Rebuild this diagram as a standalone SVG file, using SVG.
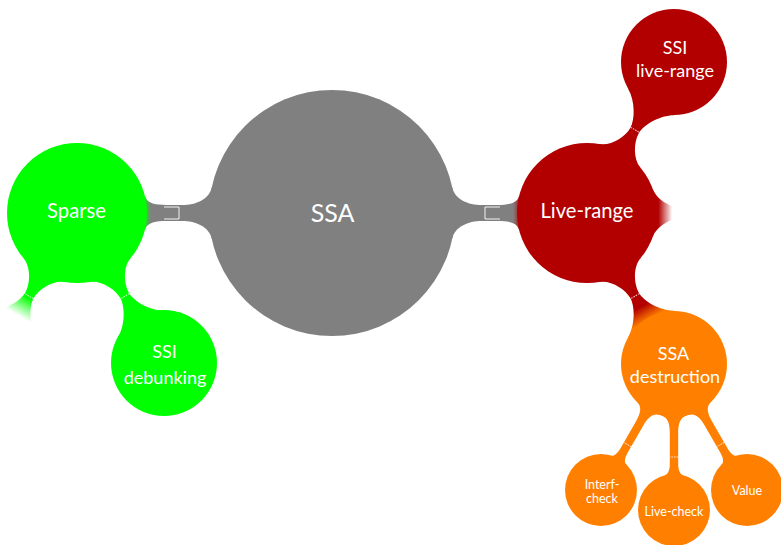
<svg xmlns="http://www.w3.org/2000/svg" width="781" height="545" viewBox="0 0 781 545">
  <defs>
    <style>
      text { font-family: Lato, "Open Sans", "DejaVu Sans", sans-serif; fill: #ffffff; text-anchor: middle; }
      .grey { fill: #808080; }
      .green { fill: #00ff00; }
      .red { fill: #b20000; }
      .orange { fill: #ff8000; }
      .l0 { font-size: 25px; }
      .l1 { font-size: 20.2px; }
      .l2 { font-size: 18px; }
      .l3 { font-size: 12.5px; }
      .seam { fill: none; stroke: #ffffff; stroke-width: 0.9; stroke-dasharray: 1.6 1; opacity: 0.85; }
      .label-box { fill: none; stroke: #ffffff; stroke-width: 0.9; }
    </style>

    <!-- connection bars in local coordinates: parent centre at origin, child centre at (D,0) -->
    <!-- root (r=123) to first level (r=70), D=255 -->
    <path id="bar1" d="M0,0 L120.3,-25.6 C122.8,-13.9 136,-8 150,-8 L166,-8 C175,-8 185.2,-9.1 187.1,-16.9 L255,0 L187.1,16.9 C185.2,9.1 175,8 166,8 L150,8 C136,8 122.8,13.9 120.3,25.6 Z"/>
    <!-- first level (r=70) to second level (r=53), D=174 -->
    <path id="bar2" d="M0,0 L65.8,-23.9 C69.9,-12.6 85,-5 95,-5 C105,-5 121.1,-14.4 128.1,-26.5 L174,0 L128.1,26.5 C121.1,14.4 105,5 95,5 C85,5 69.9,12.6 65.8,23.9 Z"/>
    <!-- second level (r=53) to third level (r=36), D=146 -->
    <path id="bar3" d="M0,0 L51.4,-12.8 C53.3,-6 60,-4.2 68,-4.2 L100,-4.2 C105,-4.2 110.2,-5.4 111.2,-9.3 L146,0 L111.2,9.3 C110.2,5.4 105,4.2 100,4.2 L68,4.2 C60,4.2 53.3,6 51.4,12.8 Z"/>

    <linearGradient id="greyToGreen" gradientUnits="userSpaceOnUse" x1="0" y1="0" x2="255" y2="0">
      <stop offset="0.71" stop-color="#808080"/>
      <stop offset="0.745" stop-color="#00ff00"/>
    </linearGradient>
    <linearGradient id="greyToRed" gradientUnits="userSpaceOnUse" x1="0" y1="0" x2="255" y2="0">
      <stop offset="0.71" stop-color="#808080"/>
      <stop offset="0.745" stop-color="#b20000"/>
    </linearGradient>
    <linearGradient id="redToOrange" gradientUnits="userSpaceOnUse" x1="0" y1="0" x2="174" y2="0">
      <stop offset="0.62" stop-color="#b20000"/>
      <stop offset="0.71" stop-color="#ff8000"/>
    </linearGradient>
    <linearGradient id="greenFade" gradientUnits="userSpaceOnUse" x1="0" y1="0" x2="174" y2="0">
      <stop offset="0.56" stop-color="#00ff00" stop-opacity="1"/>
      <stop offset="0.68" stop-color="#00ff00" stop-opacity="0"/>
    </linearGradient>
    <linearGradient id="redFade" gradientUnits="userSpaceOnUse" x1="0" y1="0" x2="174" y2="0">
      <stop offset="0.41" stop-color="#b20000" stop-opacity="1"/>
      <stop offset="0.49" stop-color="#b20000" stop-opacity="0"/>
    </linearGradient>
  </defs>

  <g id="connectors">
    <!-- SSA to Sparse -->
    <g transform="translate(332,213) rotate(180)">
      <use href="#bar1" fill="url(#greyToGreen)"/>
      <path class="label-box" d="M168,-6 H153 V6 H168"/>
    </g>
    <!-- SSA to Live-range -->
    <g transform="translate(332,213)">
      <use href="#bar1" fill="url(#greyToRed)"/>
      <path class="label-box" d="M168,-6 H153 V6 H168"/>
    </g>
    <!-- Sparse to SSI debunking -->
    <g transform="translate(77,213) rotate(60)">
      <use href="#bar2" fill="#00ff00"/>
      <path class="seam" d="M96,-5 V5"/>
    </g>
    <!-- Sparse, open branch -->
    <g transform="translate(77,213) rotate(120)">
      <use href="#bar2" fill="url(#greenFade)"/>
      <path class="seam" d="M96,-5 V5"/>
    </g>
    <!-- Live-range to SSI live-range -->
    <g transform="translate(587,213) rotate(-60)">
      <use href="#bar2" fill="#b20000"/>
      <path class="seam" d="M96,-5 V5"/>
    </g>
    <!-- Live-range, open branch -->
    <g transform="translate(587,213)">
      <use href="#bar2" fill="url(#redFade)"/>
    </g>
    <!-- Live-range to SSA destruction -->
    <g transform="translate(587,213) rotate(60)">
      <use href="#bar2" fill="url(#redToOrange)"/>
      <path class="seam" d="M96,-5 V5"/>
    </g>
    <!-- SSA destruction to its three checks -->
    <g transform="translate(674,364) rotate(120)">
      <use href="#bar3" fill="#ff8000"/>
      <path class="seam" d="M93,-4.2 V4.2"/>
    </g>
    <g transform="translate(674,364) rotate(90)">
      <use href="#bar3" fill="#ff8000"/>
      <path class="seam" d="M93,-4.2 V4.2"/>
    </g>
    <g transform="translate(674,364) rotate(60)">
      <use href="#bar3" fill="#ff8000"/>
      <path class="seam" d="M93,-4.2 V4.2"/>
    </g>
  </g>

  <g id="ssa">
    <circle class="grey" cx="332" cy="213" r="123"/>
    <text class="l0" x="332.5" y="221.7">SSA</text>
  </g>

  <g id="sparse">
    <circle class="green" cx="77" cy="213" r="70"/>
    <text class="l1" x="76.5" y="218.3">Sparse</text>
  </g>

  <g id="live-range">
    <circle class="red" cx="587" cy="213" r="70"/>
    <text class="l1" x="587" y="218.3">Live-range</text>
  </g>

  <g id="ssi-debunking">
    <circle class="green" cx="164" cy="363" r="53"/>
    <text class="l2" x="164.5" y="358.3">SSI</text>
    <text class="l2" x="165" y="384">debunking</text>
  </g>

  <g id="ssi-live-range">
    <circle class="red" cx="674" cy="62" r="53"/>
    <text class="l2" x="675" y="54.3">SSI</text>
    <text class="l2" x="675" y="76.5">live-range</text>
  </g>

  <g id="ssa-destruction">
    <circle class="orange" cx="674" cy="364" r="53"/>
    <text class="l2" x="673.5" y="359.8">SSA</text>
    <text class="l2" x="675" y="382.7">destruction</text>
  </g>

  <g id="interf-check">
    <circle class="orange" cx="601" cy="490" r="36"/>
    <text class="l3" x="602" y="488.5">Interf-</text>
    <text class="l3" x="602" y="502.5">check</text>
  </g>

  <g id="live-check">
    <circle class="orange" cx="674" cy="510" r="36"/>
    <text class="l3" x="674" y="515.5">Live-check</text>
  </g>

  <g id="value">
    <circle class="orange" cx="747" cy="490" r="36"/>
    <text class="l3" x="747" y="495">Value</text>
  </g>
</svg>
